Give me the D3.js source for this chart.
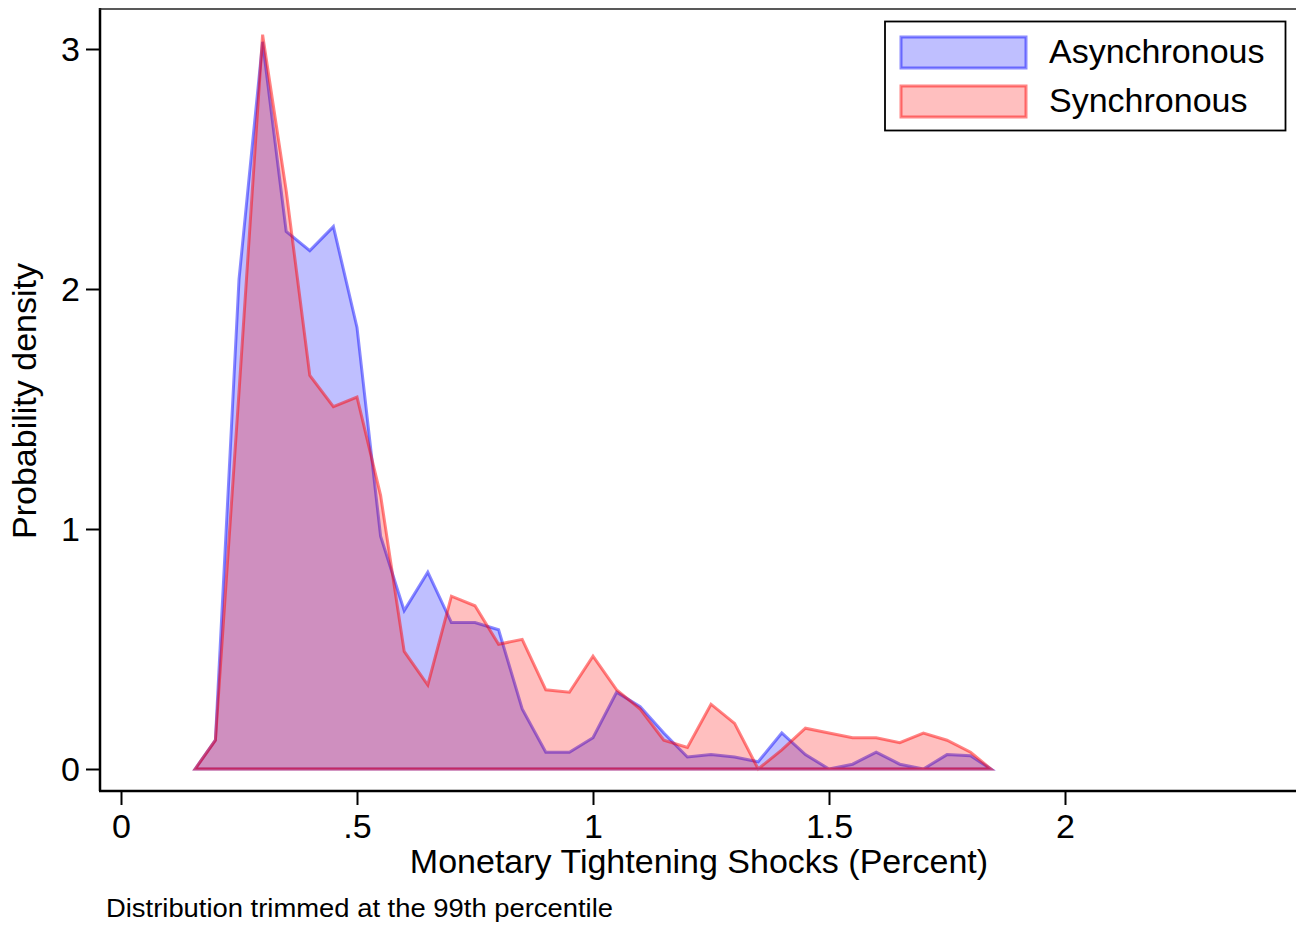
<!DOCTYPE html>
<html>
<head>
<meta charset="utf-8">
<script src="https://cdn.jsdelivr.net/npm/d3@7"></script>
<style>
  html, body { margin: 0; padding: 0; background: #fff; }
  svg { display: block; }
  text { font-family: "Liberation Sans", Arial, sans-serif; fill: #000; }
</style>
</head>
<body>
<svg id="chart" width="1296" height="926"></svg>
<script>
// Data
const xGrid = [0.157, 0.20, 0.25, 0.30, 0.35, 0.40, 0.45, 0.50, 0.55, 0.60, 0.65, 0.70, 0.75, 0.80, 0.85, 0.90, 0.95, 1.00, 1.05, 1.10, 1.15, 1.20, 1.25, 1.30, 1.35, 1.40, 1.45, 1.50, 1.55, 1.60, 1.65, 1.70, 1.75, 1.80, 1.843];
const asynchronous = [0, 0.12, 2.04, 3.03, 2.24, 2.16, 2.26, 1.84, 0.97, 0.66, 0.82, 0.61, 0.61, 0.58, 0.25, 0.07, 0.07, 0.13, 0.32, 0.26, 0.15, 0.05, 0.06, 0.05, 0.03, 0.15, 0.06, 0.00, 0.02, 0.07, 0.02, 0.00, 0.06, 0.055, 0];
const synchronous  = [0, 0.12, 1.57, 3.06, 2.41, 1.64, 1.51, 1.55, 1.14, 0.49, 0.35, 0.72, 0.68, 0.52, 0.54, 0.33, 0.32, 0.47, 0.33, 0.25, 0.12, 0.09, 0.27, 0.19, 0.00, 0.08, 0.17, 0.15, 0.13, 0.13, 0.11, 0.15, 0.12, 0.07, 0];
const seriesNames = ["Asynchronous", "Synchronous"];
const xTicks = [0, 0.5, 1, 1.5, 2];
const xTickLabels = ["0", ".5", "1", "1.5", "2"];
const yTicks = [0, 1, 2, 3];
const yTickLabels = ["0", "1", "2", "3"];
const xTitle = "Monetary Tightening Shocks (Percent)";
const yTitle = "Probability density";
const note = "Distribution trimmed at the 99th percentile";

const svg = d3.select("#chart");
const x = d3.scaleLinear().domain([0, 2]).range([121, 1065]);
const y = d3.scaleLinear().domain([0, 3]).range([769, 49]);

const styles = [
  { fill: "rgba(0,0,255,0.25)", stroke: "rgba(0,0,255,0.46)" },
  { fill: "rgba(255,0,0,0.25)", stroke: "rgba(255,0,0,0.48)" }
];

const seriesData = [asynchronous, synchronous];
seriesData.forEach((vals, i) => {
  const pts = xGrid.map((xv, j) => [x(xv), y(vals[j])]);
  // close along the baseline
  const poly = pts.concat([[x(xGrid[xGrid.length - 1]), y(0)], [x(xGrid[0]), y(0)]]);
  svg.append("path")
    .attr("d", "M" + poly.map(p => p.join(",")).join("L") + "Z")
    .attr("fill", styles[i].fill)
    .attr("stroke", styles[i].stroke)
    .attr("stroke-width", 3)
    .attr("stroke-linejoin", "miter");
});

// Axes
const yAxis = d3.axisLeft(y).tickValues(yTicks).tickFormat((d, i) => yTickLabels[i]).tickSize(14).tickPadding(6);
const gy = svg.append("g").attr("transform", "translate(100,0)").call(yAxis);
gy.select(".domain").remove();
gy.selectAll(".tick line").attr("stroke", "#000").attr("stroke-width", 2);
gy.selectAll(".tick text").attr("font-size", 34).attr("font-family", "Liberation Sans, Arial, sans-serif").attr("dy", "0.35em");

const xAxis = d3.axisBottom(x).tickValues(xTicks).tickFormat((d, i) => xTickLabels[i]).tickSize(14).tickPadding(8);
const gx = svg.append("g").attr("transform", "translate(0,791)").call(xAxis);
gx.select(".domain").remove();
gx.selectAll(".tick line").attr("stroke", "#000").attr("stroke-width", 2);
gx.selectAll(".tick text").attr("font-size", 34).attr("font-family", "Liberation Sans, Arial, sans-serif").attr("dy", "0.74em");

// axis lines
svg.append("line").attr("x1", 100).attr("x2", 100).attr("y1", 8).attr("y2", 791).attr("stroke", "#000").attr("stroke-width", 2.5);
svg.append("line").attr("x1", 99).attr("x2", 1296).attr("y1", 791).attr("y2", 791).attr("stroke", "#000").attr("stroke-width", 2.5);
svg.append("line").attr("x1", 99).attr("x2", 1296).attr("y1", 9).attr("y2", 9).attr("stroke", "#222").attr("stroke-width", 1.6);

// titles
svg.append("text").attr("x", 699).attr("y", 873).attr("text-anchor", "middle").attr("font-size", 34).text(xTitle);
svg.append("text").attr("transform", "translate(36,401) rotate(-90)").attr("text-anchor", "middle").attr("font-size", 34).text(yTitle);
svg.append("text").attr("x", 106).attr("y", 917).attr("font-size", 26).attr("textLength", 507).attr("lengthAdjust", "spacingAndGlyphs").text(note);

// legend
const lg = svg.append("g");
lg.append("rect").attr("x", 885).attr("y", 21.5).attr("width", 400.5).attr("height", 109).attr("fill", "#fff").attr("stroke", "#000").attr("stroke-width", 1.8);
seriesNames.forEach((name, i) => {
  const yy = 37 + i * 49;
  lg.append("rect").attr("x", 901).attr("y", yy).attr("width", 125).attr("height", 31)
    .attr("fill", styles[i].fill).attr("stroke", styles[i].stroke).attr("stroke-width", 3);
  lg.append("text").attr("x", 1049).attr("y", yy + 26).attr("font-size", 34).text(name);
});
</script>
</body>
</html>
